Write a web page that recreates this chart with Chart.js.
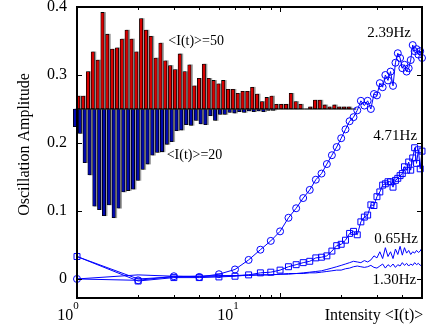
<!DOCTYPE html>
<html>
<head>
<meta charset="utf-8">
<script src="https://cdn.jsdelivr.net/npm/chart.js@4.4.1/dist/chart.umd.min.js"></script>
<style>
  html, body { margin: 0; padding: 0; background: #fff; }
  #chart { display: block; }
</style>
</head>
<body>
<canvas id="chart" width="439" height="331"></canvas>
<script>
// ------------------------------
// data
// ------------------------------
var intensity = [1, 2, 3, 4, 5, 6, 7, 8, 9, 10,
                 11, 12, 13, 14, 15, 16, 17, 18, 19, 20,
                 21, 22, 23, 24, 25, 26, 27, 28, 29, 30,
                 31, 32, 33, 34, 35, 36, 37, 38, 39, 40,
                 41, 42, 43, 44, 45, 46, 47, 48, 49, 50];

var amp239 = [0, -0.002, 0.004, 0.003, 0.007, 0.014, 0.028, 0.043, 0.056, 0.070,
              0.090, 0.104, 0.119, 0.131, 0.146, 0.155, 0.169, 0.182, 0.194, 0.207,
              0.220, 0.232, 0.238, 0.248, 0.262, 0.255, 0.262, 0.250, 0.272, 0.270,
              0.288, 0.282, 0.300, 0.292, 0.305, 0.284, 0.318, 0.332, 0.325, 0.310,
              0.315, 0.305, 0.310, 0.322, 0.344, 0.335, 0.338, 0.330, 0.335, 0.325];

var amp471 = [0.033, -0.003, 0.002, 0.002, 0.003, 0.004, 0.006, 0.009, 0.010, 0.013,
              0.018, 0.021, 0.024, 0.026, 0.031, 0.032, 0.034, 0.041, 0.049, 0.051,
              0.057, 0.067, 0.070, 0.065, 0.084, 0.091, 0.094, 0.109, 0.108, 0.121,
              0.128, 0.138, 0.140, 0.143, 0.143, 0.135, 0.145, 0.148, 0.152, 0.155,
              0.165, 0.160, 0.172, 0.160, 0.178, 0.193, 0.170, 0.190, 0.162, 0.188];

var amp065 = [0.033, 0.000, 0.003, 0.004, 0.004, 0.005, 0.005, 0.006, 0.006, 0.007,
              0.008, 0.008, 0.009, 0.010, 0.011, 0.012, 0.014, 0.016, 0.018, 0.020,
              0.022, 0.024, 0.026, 0.025, 0.024, 0.027, 0.025, 0.028, 0.034, 0.031,
              0.040, 0.030, 0.046, 0.033, 0.040, 0.030, 0.044, 0.036, 0.048, 0.035,
              0.046, 0.038, 0.042, 0.036, 0.040, 0.038, 0.042, 0.039, 0.041, 0.046];

var amp130 = [0.000, 0.006, 0.004, 0.004, 0.005, 0.005, 0.006, 0.006, 0.006, 0.007,
              0.007, 0.008, 0.008, 0.009, 0.009, 0.010, 0.011, 0.012, 0.013, 0.013,
              0.015, 0.016, 0.018, 0.019, 0.018, 0.017, 0.018, 0.020, 0.017, 0.016,
              0.019, 0.022, 0.016, 0.021, 0.018, 0.022, 0.017, 0.021, 0.019, 0.024,
              0.020, 0.023, 0.019, 0.022, 0.020, 0.024, 0.021, 0.023, 0.020, 0.021];

// inset histograms, bar heights measured from the inset baseline
var histBase = 0.25;
var hist50 = [0.019, 0.019, 0.055, 0.084, 0.072, 0.142, 0.110, 0.088, 0.090, 0.103,
              0.116, 0.103, 0.084, 0.133, 0.116, 0.107, 0.075, 0.097, 0.071, 0.064,
              0.058, 0.081, 0.055, 0.065, 0.034, 0.045, 0.066, 0.045, 0.042, 0.037,
              0.042, 0.029, 0.029, 0.023, 0.026, 0.026, 0.032, 0.022, 0.011, 0.017,
              0.019, 0.007, 0.007, 0.007, 0.023, 0.011, 0.007, 0, 0.003, 0.013,
              0.013, 0.006, 0.003, 0.006, 0.003, 0.003, 0.003, 0];
var hist20 = [0.026, 0.036, 0.079, 0.097, 0.143, 0.148, 0.157, 0.141, 0.160, 0.146,
              0.122, 0.120, 0.118, 0.105, 0.089, 0.081, 0.068, 0.064, 0.063, 0.052,
              0.048, 0.032, 0.031, 0.023, 0.024, 0.017, 0.022, 0.023, 0.010, 0.017,
              0.008, 0.008, 0.005, 0.006, 0.004, 0.005, 0.003, 0.004, 0.003, 0.004,
              0.002, 0.002];

var yTicks = [0, 0.1, 0.2, 0.3, 0.4];
var yTickLabels = ['0', '0.1', '0.2', '0.3', '0.4'];
var xMajor = [1, 10];
var xMajorExp = ['0', '1'];
var xMinor = [2, 3, 4, 5, 6, 7, 8, 9, 20, 30, 40];

// text notes, placed in data units
var notes = [
    { text: '2.39Hz', x: 34.4, y: 0.362, size: 15 },
    { text: '4.71Hz', x: 36.9, y: 0.210, size: 15 },
    { text: '0.65Hz', x: 37.3, y: 0.059, size: 15 },
    { text: '1.30Hz', x: 36.5, y: -0.002, size: 15 },
    { text: '<I(t)>=50', x: 3.86, y: 0.349, size: 14 },
    { text: '<I(t)>=20', x: 3.79, y: 0.182, size: 14 }
];

var SERIF = '"Liberation Serif", "Times New Roman", serif';
var BLUE = '#0000ff';

function pts(ys) {
    return intensity.map(function(x, i) { return { x: x, y: ys[i] }; });
}
function bars(hs, shift, dir) {
    return hs.map(function(h, i) {
        return { x: i + shift, y: [histBase, histBase + dir * h] };
    });
}

function lineSet(label, ys, style, radius) {
    return {
        type: 'line', label: label, xAxisID: 'x', data: pts(ys),
        borderColor: BLUE, borderWidth: 1, backgroundColor: 'rgba(0,0,0,0)',
        pointStyle: style, pointRadius: radius, pointBorderColor: BLUE,
        pointBorderWidth: 1, pointBackgroundColor: 'rgba(0,0,0,0)',
        tension: 0, clip: false
    };
}
function barSet(data, fill, border) {
    return {
        type: 'bar', xAxisID: 'xh', data: data,
        backgroundColor: fill, borderColor: border, borderWidth: border ? 0.8 : 0,
        borderSkipped: false, barThickness: 3.4, grouped: false, clip: false
    };
}

var axesPlugin = {
    id: 'matlabAxes',
    afterDatasetsDraw: function(chart) {
        var ctx = chart.ctx, a = chart.chartArea;
        var xs = chart.scales.x, ys = chart.scales.y;
        ctx.save();
        ctx.strokeStyle = '#000';
        ctx.fillStyle = '#000';

        // frame
        ctx.lineWidth = 2;
        ctx.strokeRect(a.left, a.top, a.right - a.left, a.bottom - a.top);

        // inward ticks
        ctx.lineWidth = 1;
        ctx.beginPath();
        yTicks.forEach(function(v) {
            var py = Math.round(ys.getPixelForValue(v)) + 0.5;
            ctx.moveTo(a.left, py); ctx.lineTo(a.left + 5, py);
            ctx.moveTo(a.right, py); ctx.lineTo(a.right - 5, py);
        });
        xMajor.forEach(function(v) {
            var px = Math.round(xs.getPixelForValue(v)) + 0.5;
            ctx.moveTo(px, a.bottom); ctx.lineTo(px, a.bottom - 5);
            ctx.moveTo(px, a.top); ctx.lineTo(px, a.top + 5);
        });
        xMinor.forEach(function(v) {
            var px = Math.round(xs.getPixelForValue(v)) + 0.5;
            ctx.moveTo(px, a.bottom); ctx.lineTo(px, a.bottom - 3);
            ctx.moveTo(px, a.top); ctx.lineTo(px, a.top + 3);
        });
        ctx.stroke();

        // y tick labels
        ctx.font = '16px ' + SERIF;
        ctx.textAlign = 'right';
        ctx.textBaseline = 'middle';
        yTicks.forEach(function(v, i) {
            ctx.fillText(yTickLabels[i], a.left - 10, ys.getPixelForValue(v));
        });

        // x tick labels (the figure prints them left of their ticks)
        var labelShift = [-9, -52];
        xMajor.forEach(function(v, i) {
            ctx.font = '16px ' + SERIF;
            var w1 = ctx.measureText('10').width;
            ctx.font = '11px ' + SERIF;
            var w2 = ctx.measureText(xMajorExp[i]).width;
            var x0 = xs.getPixelForValue(v) + labelShift[i] - (w1 + w2) / 2;
            ctx.textAlign = 'left';
            ctx.font = '16px ' + SERIF;
            ctx.fillText('10', x0, a.bottom + 18);
            ctx.font = '11px ' + SERIF;
            ctx.fillText(xMajorExp[i], x0 + w1, a.bottom + 8);
        });

        // axis titles
        ctx.font = '16px ' + SERIF;
        ctx.textAlign = 'center';
        ctx.fillText('Intensity <I(t)>', a.right - 48, a.bottom + 18);
        ctx.save();
        ctx.translate(25, (a.top + a.bottom) / 2 - 8);
        ctx.rotate(-Math.PI / 2);
        ctx.fillText('Oscillation Amplitude', 0, 0);
        ctx.restore();

        // notes
        notes.forEach(function(n) {
            ctx.font = n.size + 'px ' + SERIF;
            ctx.fillText(n.text, xs.getPixelForValue(n.x), ys.getPixelForValue(n.y));
        });
        ctx.restore();
    }
};

new Chart(document.getElementById('chart'), {
    data: {
        datasets: [
            lineSet('2.39Hz', amp239, 'circle', 3.5),
            lineSet('4.71Hz', amp471, 'rect', 4.2),
            lineSet('0.65Hz', amp065, 'circle', 0),
            lineSet('1.30Hz', amp130, 'circle', 0),
            {
                type: 'line', xAxisID: 'xh', borderColor: '#000', borderWidth: 1,
                pointRadius: 0, clip: false,
                data: [{ x: -0.5, y: histBase }, { x: hist50.length - 0.5, y: histBase }]
            },
            barSet(bars(hist50, 0, 1), '#d80000', '#000'),
            barSet(bars(hist50, 0.3, 1), '#a0a0a0', null),
            barSet(bars(hist20, -0.68, -1), '#0008b0', '#000'),
            barSet(bars(hist20, -0.38, -1), '#a0a0a0', null)
        ]
    },
    options: {
        responsive: false,
        animation: false,
        devicePixelRatio: 1,
        events: [],
        layout: { padding: { left: 77, right: 17, top: 7, bottom: 33 } },
        plugins: { legend: { display: false }, tooltip: { enabled: false } },
        scales: {
            x: { type: 'logarithmic', min: 1, max: 50, display: false, offset: false },
            xh: { type: 'linear', min: -0.27, max: 71.16, display: false,
                  offset: false, grid: { offset: false } },
            y: { type: 'linear', min: -0.028, max: 0.4, display: false }
        }
    },
    plugins: [axesPlugin]
});
</script>
</body>
</html>
